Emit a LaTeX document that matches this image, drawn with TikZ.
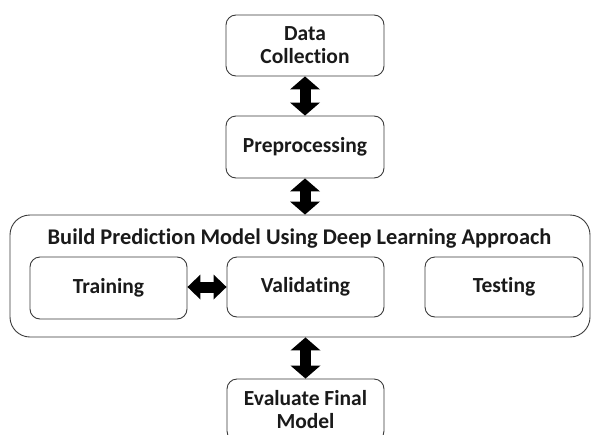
\documentclass[tikz,border=0pt]{standalone}
\usepackage{fontspec}
\setmainfont{Carlito}[RawFeature=-liga]
\usetikzlibrary{arrows.meta}
\definecolor{txt}{HTML}{1A1A1A}
\definecolor{edge}{HTML}{3A3A3A}
\tikzset{
  lbl/.style={text=txt, font=\fontsize{21.5}{23}\selectfont\bfseries, inner sep=0pt},
  box/.style={lbl, draw=edge, line width=0.9pt, rounded corners=10pt, align=center},
  bigbox/.style={draw=edge, line width=0.9pt, rounded corners=20pt, inner sep=0pt},
  vflow/.style={line width=11pt, {Triangle[width=30pt,length=13pt,line width=0pt]}-{Triangle[width=30pt,length=13pt,line width=0pt]}},
  hflow/.style={line width=11pt, {Triangle[width=25pt,length=13pt,line width=0pt]}-{Triangle[width=25pt,length=13pt,line width=0pt]}},
}
\begin{document}
\begin{tikzpicture}[x=1pt,y=-1pt]
\useasboundingbox (0,0) rectangle (591,434);
\clip (0,0) rectangle (591,434);
\node[bigbox, minimum width=580pt, minimum height=122pt] (big) at (300,276) {};
\node[lbl, font=\fontsize{22.4}{24}\selectfont\bfseries] (title) at (299.5,239) {Build Prediction Model Using Deep Learning Approach};
\node[box, minimum width=158pt, minimum height=61pt] (dc) at (305,45.5) {Data\\Collection};
\node[box, minimum width=158pt, minimum height=62pt] (pp) at (305,147) {Preprocessing};
\node[box, minimum width=157pt, minimum height=62pt] (tr) at (108.5,288) {Training};
\node[box, minimum width=157pt, minimum height=60pt] (va) at (305.5,287) {Validating};
\node[box, minimum width=158pt, minimum height=60pt] (te) at (504,287) {Testing};
\node[box, minimum width=157pt, minimum height=62pt] (ev) at (305.5,410) {Evaluate Final\\Model};
\draw[vflow] (dc.south) -- (pp.north);
\draw[vflow] (pp.south) -- (pp.south |- big.north);
\draw[vflow] (big.south -| ev.north) -- (ev.north);
\draw[hflow] (tr.east |- va.east) -- (va.east -| va.west);
\end{tikzpicture}
\end{document}
